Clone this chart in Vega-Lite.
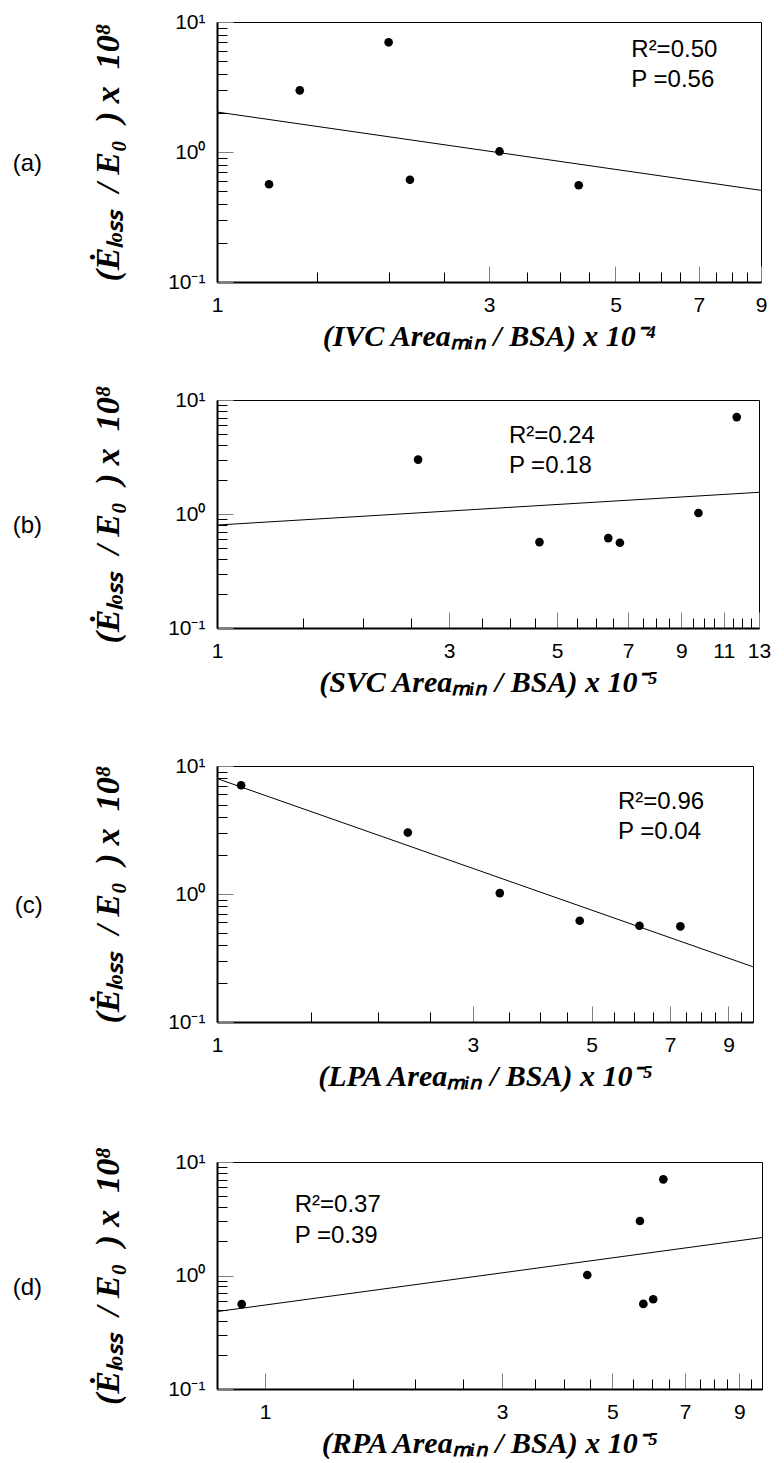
{
  "$schema": "https://vega.github.io/schema/vega-lite/v6.json",
  "background": "white",
  "padding": {"left": 12, "top": 10, "right": 2, "bottom": 0},
  "spacing": 32,
  "datasets": {
    "pts_a": [{"x":1.234,"y":0.565},{"x":1.397,"y":2.98},{"x":2.0,"y":6.98},{"x":2.18,"y":0.612},{"x":3.13,"y":1.01},{"x":4.31,"y":0.555}],
    "fit_a": [{"x":1,"y":2.03},{"x":9,"y":0.507}],
    "ann_a": [{"x":5.33,"y":6.1,"label":"R²=0.50"},{"x":5.33,"y":3.58,"label":"P =0.56"}],
    "pts_b": [{"x":2.59,"y":3.0},{"x":4.6,"y":0.567},{"x":6.37,"y":0.615},{"x":6.73,"y":0.56},{"x":9.76,"y":1.02},{"x":11.7,"y":7.08}],
    "fit_b": [{"x":1,"y":0.80},{"x":13,"y":1.55}],
    "ann_b": [{"x":3.98,"y":4.88,"label":"R²=0.24"},{"x":3.98,"y":2.63,"label":"P =0.18"}],
    "pts_c": [{"x":1.109,"y":7.07},{"x":2.27,"y":3.02},{"x":3.37,"y":1.016},{"x":4.75,"y":0.618},{"x":6.14,"y":0.565},{"x":7.32,"y":0.558}],
    "fit_c": [{"x":1,"y":7.98},{"x":10,"y":0.27}],
    "ann_c": [{"x":5.6,"y":5.21,"label":"R²=0.96"},{"x":5.6,"y":3.04,"label":"P =0.04"}],
    "pts_d": [{"x":0.897,"y":0.559},{"x":4.45,"y":1.01},{"x":5.68,"y":3.02},{"x":5.77,"y":0.562},{"x":6.04,"y":0.618},{"x":6.33,"y":7.03}],
    "fit_d": [{"x":0.8,"y":0.481},{"x":10,"y":2.16}],
    "ann_d": [{"x":1.147,"y":4.21,"label":"R²=0.37"},{"x":1.147,"y":2.21,"label":"P =0.39"}]
  },
  "config": {
    "view": {"stroke": "black", "strokeWidth": 1},
    "axis": {
      "domainColor": "black", "domainWidth": 2, "grid": false,
      "labelFont": "Liberation Sans", "labelFontSize": 21, "labelColor": "black",
      "titleFont": "Liberation Serif", "titleFontSize": 30, "titleFontWeight": "bold", "titleFontStyle": "italic", "titleColor": "black",
      "tickWidth": 1, "labelOverlap": false, "labelFlush": false
    },
    "axisY": {"titleFontSize": 34}
  },
  "vconcat": [
    {
      "width": 544, "height": 260,
      "title": {"text": "(a)", "orient": "left", "angle": 0, "anchor": "middle", "font": "Liberation Sans", "fontSize": 24, "fontWeight": "normal", "offset": 35},
      "encoding": {
        "x": {"field": "x", "type": "quantitative",
          "scale": {"type": "log", "domain": [1, 9], "nice": false},
          "axis": {"values": [1,1.5,2,2.5,3,3.5,4,4.5,5,5.5,6,6.5,7,7.5,8,8.5,9],
            "labelExpr": "indexof([1,3,5,7,9], datum.value) >= 0 ? format(datum.value, 'd') : ''",
            "tickSize": {"condition": {"test": "indexof([1,3,5,7,9], datum.value) >= 0", "value": -16}, "value": -10},
            "tickColor": {"condition": {"test": "indexof([1,3,5,7,9], datum.value) >= 0", "value": "#808080"}, "value": "black"},
            "labelPadding": 28, "title": "(IVC Areaₘᵢₙ / BSA) x 10⁻⁴", "titlePadding": 0}},
        "y": {"field": "y", "type": "quantitative",
          "scale": {"type": "log", "domain": [0.1, 10], "nice": false},
          "axis": {"values": [0.1,0.2,0.3,0.4,0.5,0.6,0.7,0.8,0.9,1,2,3,4,5,6,7,8,9,10],
            "labelExpr": "datum.value == 10 ? '10¹' : datum.value == 1 ? '10⁰' : datum.value == 0.1 ? '10⁻¹' : ''",
            "tickSize": {"condition": {"test": "datum.value == 10 || datum.value == 1 || datum.value == 0.1", "value": -16}, "value": -10},
            "tickColor": {"condition": {"test": "datum.value == 10 || datum.value == 1 || datum.value == 0.1", "value": "#808080"}, "value": "black"},
            "labelPadding": 28, "title": "(Ėₗₒₛₛ\u00a0\u00a0/\u00a0E₀\u00a0\u00a0)\u00a0x\u00a0\u00a010⁸", "titlePadding": 42}}
      },
      "layer": [
        {"data": {"name": "fit_a"}, "mark": {"type": "line", "color": "black", "strokeWidth": 1}},
        {"data": {"name": "pts_a"}, "mark": {"type": "circle", "size": 75, "color": "black", "opacity": 1}},
        {"data": {"name": "ann_a"}, "mark": {"type": "text", "align": "left", "baseline": "middle", "font": "Liberation Sans", "fontSize": 24, "color": "black"}, "encoding": {"text": {"field": "label"}}}
      ]
    },
    {
      "spacing": 56,
      "vconcat": [
        {
          "width": 542, "height": 228,
          "title": {"text": "(b)", "orient": "left", "angle": 0, "anchor": "middle", "font": "Liberation Sans", "fontSize": 24, "fontWeight": "normal", "offset": 35},
          "encoding": {
            "x": {"field": "x", "type": "quantitative",
              "scale": {"type": "log", "domain": [1, 13], "nice": false},
              "axis": {"values": [1,1.5,2,2.5,3,3.5,4,4.5,5,5.5,6,6.5,7,7.5,8,8.5,9,9.5,10,10.5,11,11.5,12,12.5,13],
                "labelExpr": "indexof([1,3,5,7,9,11,13], datum.value) >= 0 ? format(datum.value, 'd') : ''",
                "tickSize": {"condition": {"test": "indexof([1,3,5,7,9,11,13], datum.value) >= 0", "value": -16}, "value": -10},
                "tickColor": {"condition": {"test": "indexof([1,3,5,7,9,11,13], datum.value) >= 0", "value": "#808080"}, "value": "black"},
                "labelPadding": 28, "title": "(SVC Areaₘᵢₙ / BSA) x 10⁻⁵", "titlePadding": 0}},
            "y": {"field": "y", "type": "quantitative",
              "scale": {"type": "log", "domain": [0.1, 10], "nice": false},
              "axis": {"values": [0.1,0.2,0.3,0.4,0.5,0.6,0.7,0.8,0.9,1,2,3,4,5,6,7,8,9,10],
                "labelExpr": "datum.value == 10 ? '10¹' : datum.value == 1 ? '10⁰' : datum.value == 0.1 ? '10⁻¹' : ''",
                "tickSize": {"condition": {"test": "datum.value == 10 || datum.value == 1 || datum.value == 0.1", "value": -16}, "value": -10},
                "tickColor": {"condition": {"test": "datum.value == 10 || datum.value == 1 || datum.value == 0.1", "value": "#808080"}, "value": "black"},
                "labelPadding": 28, "title": "(Ėₗₒₛₛ\u00a0\u00a0/\u00a0E₀\u00a0\u00a0)\u00a0x\u00a0\u00a010⁸", "titlePadding": 42}}
          },
          "layer": [
            {"data": {"name": "fit_b"}, "mark": {"type": "line", "color": "black", "strokeWidth": 1}},
            {"data": {"name": "pts_b"}, "mark": {"type": "circle", "size": 75, "color": "black", "opacity": 1}},
            {"data": {"name": "ann_b"}, "mark": {"type": "text", "align": "left", "baseline": "middle", "font": "Liberation Sans", "fontSize": 24, "color": "black"}, "encoding": {"text": {"field": "label"}}}
          ]
        },
        {
          "spacing": 53,
          "vconcat": [
            {
              "width": 536, "height": 256,
              "title": {"text": "(c)", "orient": "left", "angle": 0, "anchor": "middle", "font": "Liberation Sans", "fontSize": 24, "fontWeight": "normal", "offset": 35},
              "encoding": {
                "x": {"field": "x", "type": "quantitative",
                  "scale": {"type": "log", "domain": [1, 10], "nice": false},
                  "axis": {"values": [1,1.5,2,2.5,3,3.5,4,4.5,5,5.5,6,6.5,7,7.5,8,8.5,9,9.5,10],
                    "labelExpr": "indexof([1,3,5,7,9], datum.value) >= 0 ? format(datum.value, 'd') : ''",
                    "tickSize": {"condition": {"test": "indexof([1,3,5,7,9], datum.value) >= 0", "value": -16}, "value": -10},
                    "tickColor": {"condition": {"test": "indexof([1,3,5,7,9], datum.value) >= 0", "value": "#808080"}, "value": "black"},
                    "labelPadding": 28, "title": "(LPA Areaₘᵢₙ / BSA) x 10⁻⁵", "titlePadding": 0}},
                "y": {"field": "y", "type": "quantitative",
                  "scale": {"type": "log", "domain": [0.1, 10], "nice": false},
                  "axis": {"values": [0.1,0.2,0.3,0.4,0.5,0.6,0.7,0.8,0.9,1,2,3,4,5,6,7,8,9,10],
                    "labelExpr": "datum.value == 10 ? '10¹' : datum.value == 1 ? '10⁰' : datum.value == 0.1 ? '10⁻¹' : ''",
                    "tickSize": {"condition": {"test": "datum.value == 10 || datum.value == 1 || datum.value == 0.1", "value": -16}, "value": -10},
                    "tickColor": {"condition": {"test": "datum.value == 10 || datum.value == 1 || datum.value == 0.1", "value": "#808080"}, "value": "black"},
                    "labelPadding": 28, "title": "(Ėₗₒₛₛ\u00a0\u00a0/\u00a0E₀\u00a0\u00a0)\u00a0x\u00a0\u00a010⁸", "titlePadding": 42}}
              },
              "layer": [
                {"data": {"name": "fit_c"}, "mark": {"type": "line", "color": "black", "strokeWidth": 1}},
                {"data": {"name": "pts_c"}, "mark": {"type": "circle", "size": 75, "color": "black", "opacity": 1}},
                {"data": {"name": "ann_c"}, "mark": {"type": "text", "align": "left", "baseline": "middle", "font": "Liberation Sans", "fontSize": 24, "color": "black"}, "encoding": {"text": {"field": "label"}}}
              ]
            },
            {
              "width": 545, "height": 227,
              "title": {"text": "(d)", "orient": "left", "angle": 0, "anchor": "middle", "font": "Liberation Sans", "fontSize": 24, "fontWeight": "normal", "offset": 35},
              "encoding": {
                "x": {"field": "x", "type": "quantitative",
                  "scale": {"type": "log", "domain": [0.8, 10], "nice": false},
                  "axis": {"values": [1,1.5,2,2.5,3,3.5,4,4.5,5,5.5,6,6.5,7,7.5,8,8.5,9,9.5,10],
                    "labelExpr": "indexof([1,3,5,7,9], datum.value) >= 0 ? format(datum.value, 'd') : ''",
                    "tickSize": {"condition": {"test": "indexof([1,3,5,7,9], datum.value) >= 0", "value": -16}, "value": -10},
                    "tickColor": {"condition": {"test": "indexof([1,3,5,7,9], datum.value) >= 0", "value": "#808080"}, "value": "black"},
                    "labelPadding": 28, "title": "(RPA Areaₘᵢₙ / BSA) x 10⁻⁵", "titlePadding": 0}},
                "y": {"field": "y", "type": "quantitative",
                  "scale": {"type": "log", "domain": [0.1, 10], "nice": false},
                  "axis": {"values": [0.1,0.2,0.3,0.4,0.5,0.6,0.7,0.8,0.9,1,2,3,4,5,6,7,8,9,10],
                    "labelExpr": "datum.value == 10 ? '10¹' : datum.value == 1 ? '10⁰' : datum.value == 0.1 ? '10⁻¹' : ''",
                    "tickSize": {"condition": {"test": "datum.value == 10 || datum.value == 1 || datum.value == 0.1", "value": -16}, "value": -10},
                    "tickColor": {"condition": {"test": "datum.value == 10 || datum.value == 1 || datum.value == 0.1", "value": "#808080"}, "value": "black"},
                    "labelPadding": 28, "title": "(Ėₗₒₛₛ\u00a0\u00a0/\u00a0E₀\u00a0\u00a0)\u00a0x\u00a0\u00a010⁸", "titlePadding": 42}}
              },
              "layer": [
                {"data": {"name": "fit_d"}, "mark": {"type": "line", "color": "black", "strokeWidth": 1}},
                {"data": {"name": "pts_d"}, "mark": {"type": "circle", "size": 75, "color": "black", "opacity": 1}},
                {"data": {"name": "ann_d"}, "mark": {"type": "text", "align": "left", "baseline": "middle", "font": "Liberation Sans", "fontSize": 24, "color": "black"}, "encoding": {"text": {"field": "label"}}}
              ]
            }
          ]
        }
      ]
    }
  ]
}
